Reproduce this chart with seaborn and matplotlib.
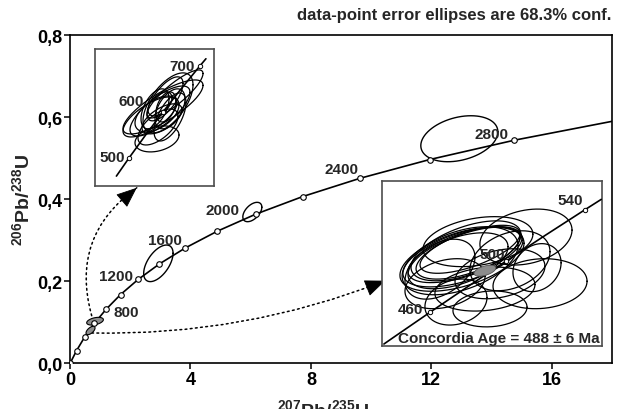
import numpy as np
import matplotlib
matplotlib.use('Agg')
import matplotlib.pyplot as plt
import seaborn as sns
from matplotlib.patches import FancyArrowPatch

# ---- concordia, main diagram (ages in Ma) ----
cc_age = [0, 200, 400, 600, 800, 1000, 1200, 1400, 1600, 1800, 2000, 2200, 2400, 2600, 2800, 3000]
cc_207 = [0, 0.2177, 0.4828, 0.8056, 1.1987, 1.6774, 2.2603, 2.9701, 3.8344, 4.8869,
          6.1685, 7.7292, 9.6296, 11.9437, 14.7616, 18.1931]
cc_206 = [0, 0.0315, 0.0640, 0.0975, 0.1321, 0.1678, 0.2046, 0.2426, 0.2817, 0.3221,
          0.3638, 0.4067, 0.4511, 0.4968, 0.5440, 0.5926]

age_labels = ['800', '1200', '1600', '2000', '2400', '2800']
age_label_x = [1.86, 1.52, 3.16, 5.06, 9.03, 14.01]
age_label_y = [0.1266, 0.2143, 0.3013, 0.3743, 0.4732, 0.5585]

# error ellipses on main diagram: centre, 1 sigma, rho
main_ell = {
    'x':   [2.934, 6.055, 12.93],
    'y':   [0.244, 0.369, 0.5475],
    'sx':  [0.488, 0.316, 1.28],
    'sy':  [0.0446, 0.0236, 0.056],
    'rho': [0.55, 0.5, 0.3],
}
grey_ell = {
    'x':   [0.831, 0.681],
    'y':   [0.1030, 0.0804],
    'sx':  [0.277, 0.150],
    'sy':  [0.0094, 0.0102],
    'rho': [0.4, 0.6],
}

# dotted leaders from the grey ellipses to the insets (start, tip, a point just before the tip)
lead_start = [(0.72, 0.1164), (0.72, 0.0743)]
lead_tip = [(2.217, 0.428), (10.47, 0.2017)]
lead_back = [(1.914, 0.4089), (10.10, 0.1909)]
lead_rad = [-0.35, 0.1]

# ---- top-left inset (detrital grains) ----
in1_207 = [0.5731, 0.6363, 0.7189, 0.8056, 0.8968, 0.9925, 1.0222]
in1_206 = [0.07396, 0.08065, 0.08906, 0.09754, 0.10609, 0.1147, 0.1173]
in1_mark_207 = [0.6363, 0.8056, 0.9925]
in1_mark_206 = [0.08065, 0.09754, 0.1147]
in1_labels = ['500', '600', '700']
in1_lab_x = [0.5535, 0.6453, 0.9007]
in1_lab_y = [0.0809, 0.1018, 0.1148]
in1_ell = {
    'x':   [0.8069, 0.7918, 0.8320, 0.8169, 0.7768, 0.8420, 0.8019, 0.7768,
            0.8671, 0.7417, 0.8219, 0.7918, 0.7818, 0.8420, 0.7668],
    'y':   [0.0995, 0.0980, 0.1010, 0.1025, 0.0969, 0.0988, 0.0951, 0.0877,
            0.1043, 0.0958, 0.0995, 0.1006, 0.0921, 0.0958, 0.0988],
    'sx':  [0.2007, 0.1505, 0.1254, 0.0903, 0.1104, 0.0753, 0.1004, 0.1104,
            0.1405, 0.1355, 0.0502, 0.0602, 0.1004, 0.0803, 0.0702],
    'sy':  [0.00998, 0.00924, 0.01109, 0.00813, 0.00665, 0.00739, 0.00555, 0.00481,
            0.00887, 0.00739, 0.00555, 0.00444, 0.00665, 0.00887, 0.00739],
    'rho': [0.8, 0.75, 0.6, 0.7, 0.5, 0.5, 0.6, 0.3, 0.85, 0.7, 0.4, 0.5, 0.6, 0.6, 0.5],
}

# ---- bottom-right inset (concordia age) ----
in2_207 = [0.5348, 0.5424, 0.5731, 0.6044, 0.6363, 0.6688, 0.7020, 0.7155]
in2_206 = [0.06981, 0.07064, 0.07396, 0.07730, 0.08065, 0.08401, 0.08738, 0.08873]
in2_mark_207 = [0.5731, 0.6363, 0.7020]
in2_mark_206 = [0.07396, 0.08065, 0.08738]
in2_labels = ['460', '500', '540']
in2_lab_x = [0.5565, 0.6251, 0.6895]
in2_lab_y = [0.0744, 0.0816, 0.0886]
in2_ell = {
    'x':   [0.6005, 0.6022, 0.5997, 0.6047, 0.5981, 0.6030, 0.6064, 0.5964, 0.6529, 0.6230,
            0.6646, 0.6621, 0.5947, 0.6130, 0.6313, 0.5856, 0.6188, 0.5814, 0.6396],
    'y':   [0.0812, 0.0815, 0.0809, 0.0817, 0.0807, 0.0820, 0.0822, 0.0807, 0.0838, 0.0744,
            0.0777, 0.0798, 0.0753, 0.0832, 0.0790, 0.0777, 0.0770, 0.0796, 0.0807],
    'sx':  [0.0499, 0.0474, 0.0516, 0.0432, 0.0482, 0.0457, 0.0416, 0.0416, 0.0383, 0.0308,
            0.0391, 0.0200, 0.0258, 0.0457, 0.0374, 0.0333, 0.0416, 0.0291, 0.0333],
    'sy':  [0.00392, 0.00366, 0.00419, 0.00340, 0.00445, 0.00392, 0.00314, 0.00366, 0.00366, 0.00235,
            0.00327, 0.00314, 0.00301, 0.00327, 0.00327, 0.00327, 0.00288, 0.00392, 0.00392],
    'rho': [0.55, 0.6, 0.5, 0.6, 0.45, 0.55, 0.65, 0.5, 0.25, 0.1,
            0.1, 0.2, 0.2, 0.3, 0.3, 0.3, 0.2, 0.4, 0.3],
}
conc_ell = {'x': 0.6188, 'y': 0.0794, 'sx': 0.0091, 'sy': 0.00072, 'rho': 0.5}


def ellipse_xy(cx, cy, sx, sy, rho, n=150):
    t = np.linspace(0, 2 * np.pi, n)
    x = cx + sx * np.cos(t)
    y = cy + sy * (rho * np.cos(t) + np.sqrt(1 - rho ** 2) * np.sin(t))
    return x, y


def draw_ellipses(ax, e, lw=0.8):
    for cx, cy, sx, sy, r in zip(e['x'], e['y'], e['sx'], e['sy'], e['rho']):
        ex, ey = ellipse_xy(cx, cy, sx, sy, r)
        ax.plot(ex, ey, color='black', lw=lw, zorder=2)


sns.set_style('ticks')
plt.rcParams['font.family'] = ['Liberation Sans', 'DejaVu Sans']
plt.rcParams['font.weight'] = 'bold'
plt.rcParams['mathtext.fontset'] = 'custom'
plt.rcParams['mathtext.rm'] = 'Liberation Sans:bold'
plt.rcParams['mathtext.bf'] = 'Liberation Sans:bold'

fig = plt.figure(figsize=(6.18, 4.10), dpi=100)
ax = fig.add_axes([0.1133, 0.111, 0.8770, 0.801])

sns.lineplot(x=cc_207, y=cc_206, ax=ax, color='black', lw=1.2, sort=False, estimator=None, zorder=3)
sns.scatterplot(x=cc_207[:-1], y=cc_206[:-1], ax=ax, s=16, color='white',
                edgecolor='black', linewidth=0.8, zorder=4)

draw_ellipses(ax, main_ell, lw=1.0)
for cx, cy, sx, sy, r in zip(grey_ell['x'], grey_ell['y'], grey_ell['sx'], grey_ell['sy'], grey_ell['rho']):
    ex, ey = ellipse_xy(cx, cy, sx, sy, r)
    ax.fill(ex, ey, facecolor='#8c8c8c', edgecolor='black', lw=0.8, zorder=3)

for lab, lx, ly in zip(age_labels, age_label_x, age_label_y):
    ax.text(lx, ly, lab, ha='center', va='center', fontsize=11, fontweight='bold', zorder=5)

# dotted leaders with solid arrow heads
for p0, p1, pb, rad in zip(lead_start, lead_tip, lead_back, lead_rad):
    ax.add_patch(FancyArrowPatch(p0, p1, connectionstyle=f'arc3,rad={rad}', arrowstyle='-',
                                 color='black', lw=1.1, linestyle=(0, (1.2, 2.2)),
                                 shrinkA=0, shrinkB=0, zorder=2))
    ax.add_patch(FancyArrowPatch(pb, p1, arrowstyle='-|>,head_length=1.1,head_width=0.45',
                                 mutation_scale=12, color='black', lw=0.6,
                                 shrinkA=0, shrinkB=0, zorder=2))

ax.set_xlim(0, 18)
ax.set_ylim(0, 0.8)
ax.set_xticks([0, 4, 8, 12, 16])
ax.set_yticks([0, 0.2, 0.4, 0.6, 0.8])
ax.set_xticklabels(['0', '4', '8', '12', '16'])
ax.set_yticklabels(['0,0', '0,2', '0,4', '0,6', '0,8'])
ax.tick_params(direction='out', length=4.5, width=1.1, pad=1, labelsize=13, colors='black')
for sp in ax.spines.values():
    sp.set_visible(True)
    sp.set_linewidth(1.2)
    sp.set_color('black')
for lbl in ax.get_xticklabels() + ax.get_yticklabels():
    lbl.set_fontweight('bold')

ax.set_ylabel(r'$^{206}$Pb/$^{238}$U', fontsize=14, fontweight='bold', labelpad=2)
fig.text(0.5235, 0.026, r'$^{207}$Pb/$^{235}$U', ha='center', va='top', fontsize=14, fontweight='bold')
fig.text(0.990, 0.961, 'data-point error ellipses are 68.3% conf.', ha='right', va='center',
         fontsize=12, fontweight='bold')

# ---- top-left inset ----
ax1 = fig.add_axes([0.1537, 0.5439, 0.1926, 0.3341])
ax1.set_xlim(0.4657, 1.0628)
ax1.set_ylim(0.0703, 0.1209)
sns.lineplot(x=in1_207, y=in1_206, ax=ax1, color='black', lw=1.2, sort=False, estimator=None, zorder=3)
draw_ellipses(ax1, in1_ell, lw=0.9)
sns.scatterplot(x=in1_mark_207, y=in1_mark_206, ax=ax1, s=10, color='white',
                edgecolor='black', linewidth=0.7, zorder=4)
for lab, lx, ly in zip(in1_labels, in1_lab_x, in1_lab_y):
    ax1.text(lx, ly, lab, ha='center', va='center', fontsize=11, fontweight='bold', zorder=5)

# ---- bottom-right inset ----
ax2 = fig.add_axes([0.6176, 0.1544, 0.3570, 0.4024])
ax2.set_xlim(0.53293, 0.71638)
ax2.set_ylim(0.06959, 0.09117)
sns.lineplot(x=in2_207, y=in2_206, ax=ax2, color='black', lw=1.2, sort=False, estimator=None, zorder=3)
draw_ellipses(ax2, in2_ell, lw=0.9)
ex, ey = ellipse_xy(conc_ell['x'], conc_ell['y'], conc_ell['sx'], conc_ell['sy'], conc_ell['rho'])
ax2.fill(ex, ey, facecolor='#8c8c8c', edgecolor='#555555', lw=0.6, zorder=3)
sns.scatterplot(x=in2_mark_207, y=in2_mark_206, ax=ax2, s=10, color='white',
                edgecolor='black', linewidth=0.7, zorder=4)
for lab, lx, ly in zip(in2_labels, in2_lab_x, in2_lab_y):
    ax2.text(lx, ly, lab, ha='center', va='center', fontsize=11, fontweight='bold', zorder=5)
ax2.text(0.99, 0.047, 'Concordia Age = 488 \u00b1 6 Ma', transform=ax2.transAxes,
         ha='right', va='center', fontsize=11, fontweight='bold', zorder=6)

for a in (ax1, ax2):
    a.set_xticks([])
    a.set_yticks([])
    a.set_xlabel('')
    a.set_ylabel('')
    a.patch.set_facecolor('white')
    for sp in a.spines.values():
        sp.set_visible(True)
        sp.set_color('#4d4d4d')
        sp.set_linewidth(1.2)

fig.savefig('out.png', dpi=100)
